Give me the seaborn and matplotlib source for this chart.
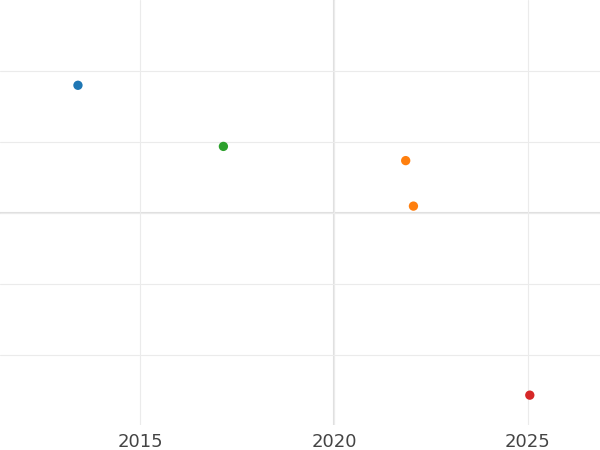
import matplotlib
matplotlib.use("Agg")
import matplotlib.pyplot as plt
import seaborn as sns
import pandas as pd

years = [2013.4, 2017.15, 2021.85, 2022.05, 2025.05]
values = [1.80, 0.94, 0.74, 0.10, -2.56]
groups = ["a", "c", "b", "b", "d"]
palette = {"a": "#1f77b4", "b": "#ff7f0e", "c": "#2ca02c", "d": "#d62728"}

df = pd.DataFrame({"year": years, "value": values, "group": groups})

sns.set_style("white")
fig = plt.figure(figsize=(6, 4.5), dpi=100)
ax = fig.add_axes([0, 1 - 425 / 450, 1, 425 / 450])
ax.set_xlim(2011.39, 2026.86)
ax.set_ylim(-2.98, 3.0)
ax.set_xticks([2015, 2020, 2025])
ax.set_yticks([-2, -1, 0, 1, 2])
ax.set_yticklabels([])
ax.grid(True, color="#ebebeb", linewidth=0.8)
ax.axvline(2020, color="#e0e0e0", linewidth=1.5, zorder=0)
ax.axhline(0, color="#e0e0e0", linewidth=1.5, zorder=0)
ax.set_axisbelow(True)
sns.scatterplot(data=df, x="year", y="value", hue="group", palette=palette,
                s=45, edgecolor="none", legend=False, ax=ax, zorder=3)
ax.set_xlabel("")
ax.set_ylabel("")
for s in ax.spines.values():
    s.set_visible(False)
ax.tick_params(axis="x", length=0, labelsize=13, colors="#444444", pad=6)
ax.tick_params(axis="y", length=0)
fig.savefig("out.png", dpi=100)
